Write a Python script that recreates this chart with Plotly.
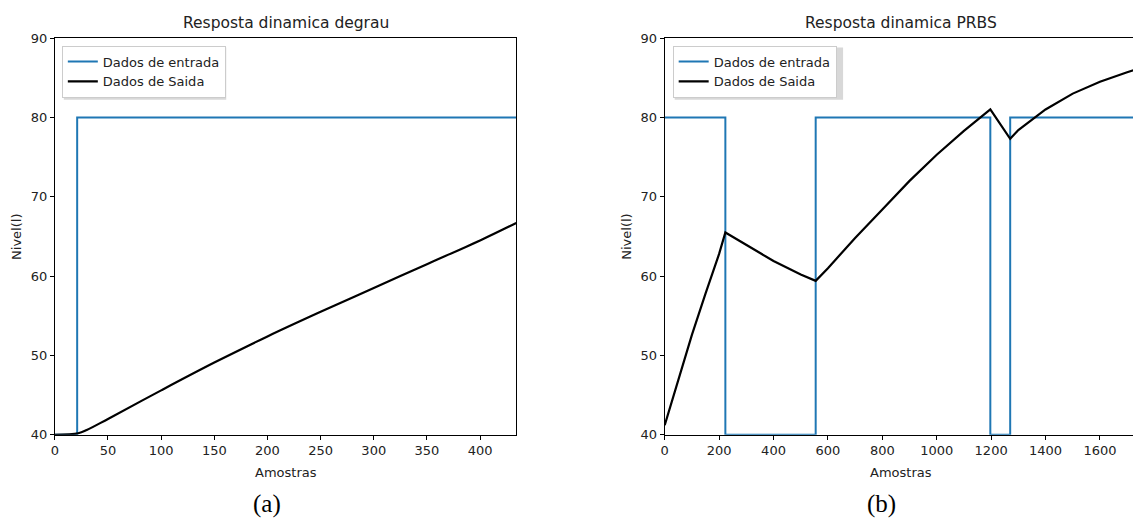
import plotly.graph_objects as go

W, H = 1141, 525

# ---- data: (a) step response ----
step_in_x = [0, 21, 434]
step_in_y = [40, 80, 80]
step_out_x = [0, 22, 30, 50, 100, 150, 200, 250, 300, 350, 400, 434]
step_out_y = [40.0, 40.2, 40.6, 42.0, 45.6, 49.1, 52.4, 55.5, 58.5, 61.5, 64.5, 66.7]

# ---- data: (b) PRBS response ----
prbs_in_x = [0, 223, 555, 1197, 1270, 1745]
prbs_in_y = [80, 40, 80, 40, 80, 80]
prbs_out_x = [0, 50, 100, 150, 200, 223, 300, 400, 500, 555, 600, 700, 800, 900,
              1000, 1100, 1197, 1270, 1300, 1400, 1500, 1600, 1700, 1745]
prbs_out_y = [41.2, 47.0, 52.6, 57.8, 62.8, 65.5, 63.9, 61.9, 60.2, 59.4, 61.0,
              64.8, 68.4, 72.0, 75.3, 78.3, 81.0, 77.3, 78.4, 81.0, 83.0, 84.5, 85.7, 86.2]

titles = ["Resposta dinamica degrau", "Resposta dinamica PRBS"]
series_names = ["Dados de entrada", "Dados de Saida"]
y_ticks = [40, 50, 60, 70, 80, 90]
x_ticks_a = [0, 50, 100, 150, 200, 250, 300, 350, 400]
x_ticks_b = [0, 200, 400, 600, 800, 1000, 1200, 1400, 1600]

BLUE = "#1f77b4"
FONT = "DejaVu Sans"
TXT = "#222222"

# empirical page-offset compensation (target pixel -> paper pixel)
DX = 10
def px(x):
    return (x - DX) / W

def py(y):
    p = (y - 12.8) / 0.977
    return 1 - p / H

ax_a = (53, 516)
ax_b = (665, 1140)
y_top, y_bot = 36, 435

fig = go.Figure()
fig.add_trace(go.Scatter(x=step_in_x, y=step_in_y, mode="lines", line=dict(color=BLUE, width=2, shape="hv"),
                         name=series_names[0], xaxis="x", yaxis="y", legend="legend"))
fig.add_trace(go.Scatter(x=step_out_x, y=step_out_y, mode="lines", line=dict(color="black", width=2.2, shape="spline"),
                         name=series_names[1], xaxis="x", yaxis="y", legend="legend"))
fig.add_trace(go.Scatter(x=prbs_in_x, y=prbs_in_y, mode="lines", line=dict(color=BLUE, width=2, shape="hv"),
                         name=series_names[0], xaxis="x2", yaxis="y2", legend="legend2"))
fig.add_trace(go.Scatter(x=prbs_out_x, y=prbs_out_y, mode="lines", line=dict(color="black", width=2.2),
                         name=series_names[1], xaxis="x2", yaxis="y2", legend="legend2"))

axis_common = dict(showgrid=False, zeroline=False, showline=True, linecolor="black", linewidth=1,
                   mirror=True, ticks="outside", ticklen=4, tickcolor="black",
                   tickfont=dict(family=FONT, size=13, color=TXT))

legend_common = dict(xanchor="left", yanchor="top", bgcolor="white",
                     bordercolor="#cccccc", borderwidth=1, font=dict(family=FONT, size=13, color=TXT),
                     tracegroupgap=0, itemwidth=30)

fig.update_layout(
    width=W, height=H,
    margin=dict(l=0, r=0, t=0, b=0),
    paper_bgcolor="white", plot_bgcolor="white",
    font=dict(family=FONT, size=13, color=TXT),
    xaxis=dict(domain=[px(ax_a[0]), px(ax_a[1])], range=[0, 434], tickvals=x_ticks_a, anchor="y", **axis_common),
    yaxis=dict(domain=[py(y_bot), py(y_top)], range=[40, 90], tickvals=y_ticks, anchor="x", **axis_common),
    xaxis2=dict(domain=[px(ax_b[0]), px(ax_b[1])], range=[0, 1740], tickvals=x_ticks_b, anchor="y2", **axis_common),
    yaxis2=dict(domain=[py(y_bot), py(y_top)], range=[40, 90], tickvals=y_ticks, anchor="x2", **axis_common),
    legend=dict(x=px(60), y=py(43.5), **legend_common),
    legend2=dict(x=px(673), y=py(43.5), **legend_common),
    showlegend=True,
)

# subtle legend shadows
shapes = []
for lx0, lx1 in [(60, 223), (673, 842)]:
    shapes.append(dict(type="rect", xref="paper", yref="paper",
                       x0=px(lx0 + 2), x1=px(lx1 + 2), y0=py(96 + 2), y1=py(43.5 + 2),
                       fillcolor="#c8c8c8", line=dict(width=0), layer="above", opacity=0.7))
fig.update_layout(shapes=shapes)

annotations = []
for (x0, x1), t in zip([ax_a, ax_b], titles):
    annotations.append(dict(text=t, x=px((x0 + x1) / 2), y=py(21), xref="paper", yref="paper",
                            showarrow=False, xanchor="center", yanchor="middle",
                            font=dict(family=FONT, size=15.5, color=TXT)))
for cx in [(ax_a[0] + ax_a[1]) / 2, 902]:
    annotations.append(dict(text="Amostras", x=px(cx), y=py(473), xref="paper", yref="paper",
                            showarrow=False, xanchor="center", yanchor="middle",
                            font=dict(family=FONT, size=13, color=TXT)))
for lx in [15, 627]:
    annotations.append(dict(text="Nivel(l)", x=px(lx), y=py(236), xref="paper", yref="paper",
                            showarrow=False, xanchor="center", yanchor="middle", textangle=-90,
                            font=dict(family=FONT, size=13, color=TXT)))
for lbl, cx in [("(a)", 266), ("(b)", 883)]:
    annotations.append(dict(text=lbl, x=px(cx), y=py(505), xref="paper", yref="paper",
                            showarrow=False, xanchor="center", yanchor="middle",
                            font=dict(family="Liberation Serif", size=25, color="black")))
fig.update_layout(annotations=annotations)

fig.write_html("out.html")
